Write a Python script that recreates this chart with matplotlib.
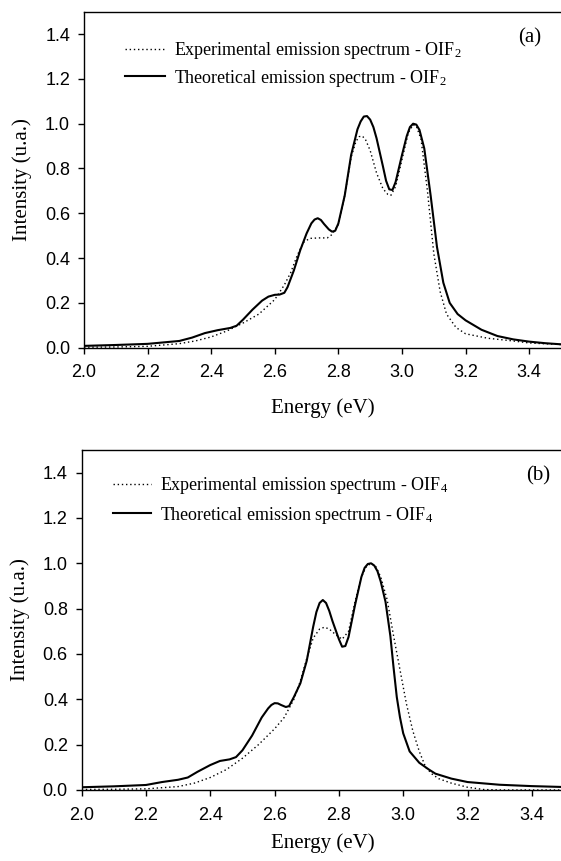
import matplotlib
matplotlib.use("Agg")
import matplotlib.pyplot as plt

plt.rcParams['mathtext.fontset'] = 'custom'
plt.rcParams['mathtext.rm'] = 'Liberation Serif'
plt.rcParams['mathtext.it'] = 'Liberation Serif:italic'

# ---- panel (a) : OIF2 ----
a_theo_x = [2.00, 2.10, 2.20, 2.30, 2.34, 2.38, 2.42, 2.46, 2.48, 2.50, 2.53, 2.56, 2.58, 2.60, 2.615,
            2.63, 2.64, 2.66, 2.68, 2.70, 2.715, 2.725, 2.735, 2.745, 2.755, 2.77, 2.78, 2.79, 2.80,
            2.82, 2.84, 2.86, 2.87, 2.88, 2.89, 2.90, 2.91, 2.92, 2.94, 2.95, 2.96, 2.97, 2.98,
            3.00, 3.015, 3.025, 3.035, 3.045, 3.055, 3.07, 3.09, 3.11, 3.13, 3.15, 3.175, 3.20,
            3.25, 3.30, 3.35, 3.40, 3.45, 3.50]
a_theo_y = [0.008, 0.012, 0.017, 0.030, 0.045, 0.065, 0.078, 0.088, 0.098, 0.125, 0.170, 0.210, 0.228, 0.236, 0.237,
            0.245, 0.270, 0.345, 0.435, 0.510, 0.555, 0.572, 0.578, 0.570, 0.552, 0.528, 0.518, 0.522, 0.555,
            0.680, 0.860, 0.975, 1.010, 1.032, 1.034, 1.018, 0.985, 0.935, 0.810, 0.745, 0.707, 0.704, 0.740,
            0.860, 0.945, 0.985, 1.000, 0.996, 0.972, 0.890, 0.680, 0.450, 0.290, 0.200, 0.150, 0.122,
            0.080, 0.052, 0.037, 0.027, 0.020, 0.015]

a_exp_x = [2.00, 2.10, 2.20, 2.30, 2.35, 2.40, 2.45, 2.50, 2.55, 2.60, 2.63, 2.65, 2.67, 2.69,
           2.71, 2.74, 2.765, 2.78, 2.80, 2.82, 2.84, 2.855, 2.865, 2.875, 2.885, 2.90, 2.92, 2.94,
           2.955, 2.965, 2.98, 3.00, 3.02, 3.035, 3.045, 3.06, 3.08, 3.10, 3.12, 3.14, 3.17, 3.20,
           3.27, 3.35, 3.40, 3.50]
a_exp_y = [0.002, 0.003, 0.006, 0.018, 0.030, 0.048, 0.075, 0.110, 0.150, 0.215, 0.280, 0.335, 0.410, 0.470,
           0.488, 0.490, 0.490, 0.505, 0.550, 0.680, 0.850, 0.920, 0.942, 0.945, 0.930, 0.880, 0.780, 0.710,
           0.685, 0.680, 0.720, 0.840, 0.960, 0.995, 0.990, 0.930, 0.700, 0.420, 0.250, 0.150, 0.090, 0.062,
           0.042, 0.030, 0.021, 0.014]

# ---- panel (b) : OIF4 ----
b_theo_x = [2.00, 2.10, 2.20, 2.25, 2.30, 2.33, 2.36, 2.40, 2.43, 2.46, 2.48, 2.50, 2.53, 2.56,
            2.58, 2.59, 2.60, 2.61, 2.62, 2.635, 2.645, 2.66, 2.68, 2.70, 2.72, 2.73, 2.74, 2.75,
            2.76, 2.77, 2.78, 2.80, 2.81, 2.82, 2.83, 2.85, 2.87, 2.88, 2.89, 2.90, 2.91, 2.92,
            2.93, 2.945, 2.96, 2.97, 2.98, 2.99, 3.00, 3.02, 3.05, 3.08, 3.10, 3.15, 3.20, 3.30,
            3.40, 3.50]
b_theo_y = [0.012, 0.016, 0.022, 0.035, 0.045, 0.055, 0.080, 0.110, 0.128, 0.135, 0.145, 0.175, 0.240, 0.320,
            0.360, 0.375, 0.383, 0.382, 0.375, 0.366, 0.370, 0.410, 0.470, 0.570, 0.720, 0.785, 0.825, 0.838,
            0.825, 0.790, 0.745, 0.665, 0.632, 0.635, 0.675, 0.815, 0.940, 0.980, 0.997, 1.000, 0.990, 0.965,
            0.920, 0.830, 0.680, 0.540, 0.410, 0.320, 0.250, 0.170, 0.120, 0.090, 0.072, 0.050, 0.035, 0.023,
            0.017, 0.013]

b_exp_x = [2.00, 2.10, 2.20, 2.30, 2.35, 2.40, 2.45, 2.50, 2.55, 2.60, 2.63, 2.66, 2.68, 2.70,
           2.72, 2.74, 2.755, 2.77, 2.79, 2.81, 2.83, 2.85, 2.87, 2.885, 2.90, 2.915, 2.93, 2.95,
           2.97, 2.99, 3.01, 3.03, 3.05, 3.07, 3.09, 3.11, 3.15, 3.20, 3.25, 3.30, 3.50]
b_exp_y = [0.002, 0.003, 0.005, 0.015, 0.030, 0.055, 0.090, 0.140, 0.200, 0.270, 0.320, 0.400, 0.480, 0.580,
           0.670, 0.710, 0.718, 0.710, 0.685, 0.665, 0.700, 0.830, 0.940, 0.985, 1.000, 0.985, 0.940, 0.840,
           0.680, 0.530, 0.380, 0.260, 0.170, 0.100, 0.070, 0.050, 0.030, 0.012, 0.002, 0.000, 0.000]

xticks = [2.0, 2.2, 2.4, 2.6, 2.8, 3.0, 3.2, 3.4]
yticks = [0.0, 0.2, 0.4, 0.6, 0.8, 1.0, 1.2, 1.4]

serif = 'Liberation Serif'
sans = 'Liberation Sans'


def style_axes(ax, label_pad_x):
    ax.set_xlim(2.0, 3.5)
    ax.set_ylim(0.0, 1.5)
    ax.set_xticks(xticks)
    ax.set_yticks(yticks)
    ax.set_xticklabels(['%.1f' % t for t in xticks], fontfamily=sans, fontsize=13)
    ax.set_yticklabels(['%.1f' % t for t in yticks], fontfamily=sans, fontsize=13)
    ax.tick_params(axis='x', direction='out', length=4, width=1, pad=8)
    ax.tick_params(axis='y', direction='out', length=4, width=1, pad=6)
    ax.spines['right'].set_visible(False)
    for s in ['left', 'top', 'bottom']:
        ax.spines[s].set_linewidth(1)
    ax.set_xlabel('Energy (eV)', fontfamily=serif, fontsize=15, labelpad=label_pad_x)
    ax.set_ylabel('Intensity (u.a.)', fontfamily=serif, fontsize=15, labelpad=9)


fig = plt.figure(figsize=(5.61, 8.61), dpi=100)

ax1 = fig.add_axes([0.1497, 0.5962, 0.8503, 0.3902])
ax1.plot(a_exp_x, a_exp_y, color='black', lw=1.0, ls=(0, (1, 2)),
         label='Experimental emission spectrum - OIF$_2$')
ax1.plot(a_theo_x, a_theo_y, color='black', lw=1.5,
         label='Theoretical emission spectrum - OIF$_2$')
style_axes(ax1, 12)
ax1.legend(loc='upper left', bbox_to_anchor=(0.087, 0.915), frameon=False,
           prop={'family': serif, 'size': 13}, handlelength=2.2, handletextpad=0.5,
           labelspacing=0.35, borderpad=0, borderaxespad=0)
ax1.text(0.935, 0.921, '(a)', transform=ax1.transAxes, fontfamily=serif,
         fontsize=15, ha='center', va='center')

ax2 = fig.add_axes([0.1456, 0.0825, 0.8597, 0.3949])
ax2.plot(b_exp_x, b_exp_y, color='black', lw=1.0, ls=(0, (1, 2)),
         label='Experimental emission spectrum - OIF$_4$')
ax2.plot(b_theo_x, b_theo_y, color='black', lw=1.5,
         label='Theoretical emission spectrum - OIF$_4$')
style_axes(ax2, 7)
ax2.legend(loc='upper left', bbox_to_anchor=(0.065, 0.925), frameon=False,
           prop={'family': serif, 'size': 13}, handlelength=2.1, handletextpad=0.5,
           labelspacing=0.45, borderpad=0, borderaxespad=0)
ax2.text(0.946, 0.924, '(b)', transform=ax2.transAxes, fontfamily=serif,
         fontsize=15, ha='center', va='center')

fig.savefig('out.png', dpi=100)
